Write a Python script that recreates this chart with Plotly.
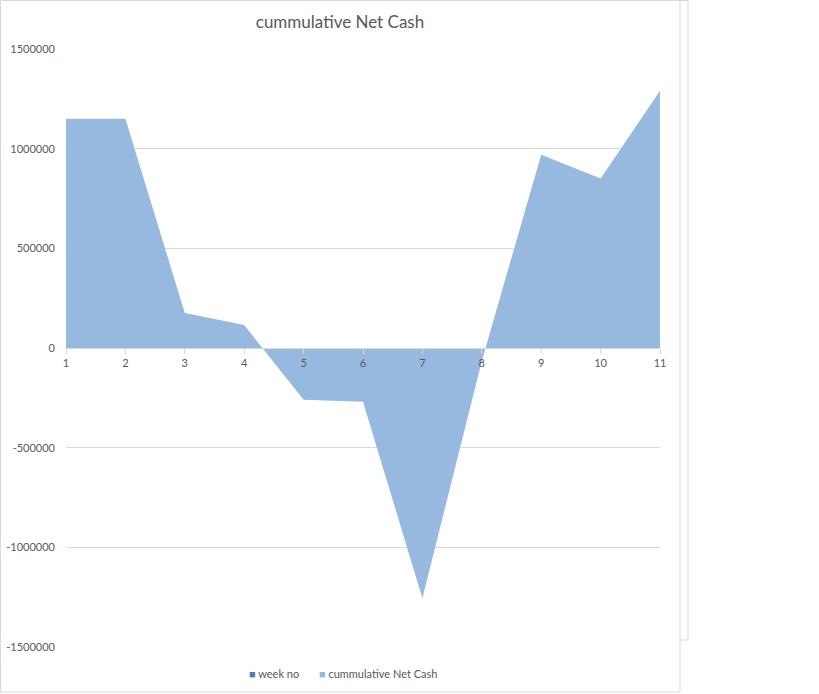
import plotly.graph_objects as go

weeks = [1, 2, 3, 4, 5, 6, 7, 8, 9, 10, 11]
week_no = [1, 2, 3, 4, 5, 6, 7, 8, 9, 10, 11]
cum_net_cash = [1150000, 1150000, 175000, 115000, -260000, -270000, -1255000, -65000, 970000, 850000, 1290000]
y_ticks = [-1500000, -1000000, -500000, 0, 500000, 1000000, 1500000]
series_names = ["week no", "cummulative Net Cash"]
series_colors = ["#4a7ebb", "#97b8df"]

W, H = 819, 694
L, R, T, B = 66, 660, 49, 647

def px(x):
    return (x - L) / (R - L)

def py(y):
    return (B - y) / (B - T)

fig = go.Figure()
fig.add_trace(go.Scatter(x=weeks, y=week_no, name=series_names[0], mode="lines",
                         fill="tozeroy", line=dict(width=0, color=series_colors[0]),
                         fillcolor=series_colors[0], hoverinfo="skip", showlegend=False))
fig.add_trace(go.Scatter(x=weeks, y=cum_net_cash, name=series_names[1], mode="lines",
                         fill="tozeroy", line=dict(width=0, color=series_colors[1]),
                         fillcolor=series_colors[1], showlegend=False))

legend_text = "&nbsp;&nbsp;&nbsp;&nbsp;&nbsp;&nbsp;&nbsp;".join(
    f'<span style="color:{c}; font-size:11px">■</span>&nbsp;{n}' for n, c in zip(series_names, series_colors)
)

font = "Lato, Open Sans, sans-serif"
fig.update_layout(
    width=W, height=H,
    margin=dict(l=L, r=W - R, t=T, b=H - B, pad=0, autoexpand=False),
    paper_bgcolor="white", plot_bgcolor="white",
    font=dict(family=font, size=11, color="#595959"),
    title=dict(text="cummulative Net Cash", x=340 / W, xanchor="center",
               y=1 - 22 / H, yanchor="middle",
               font=dict(size=17, color="#595959", family=font)),
    showlegend=False,
    annotations=[dict(text=legend_text, xref="paper", yref="paper", x=px(343), y=py(673),
                      xanchor="center", yanchor="middle", showarrow=False,
                      font=dict(size=11, color="#595959", family=font))],
    xaxis=dict(range=[1, 11], tickmode="array", tickvals=weeks, ticktext=[str(w) for w in weeks],
               showgrid=False, zeroline=False, showline=True, linecolor="#d9d9d9", linewidth=1,
               ticks="outside", ticklen=5, tickcolor="#d9d9d9", automargin=False,
               anchor="free", position=0.5, tickfont=dict(size=11, color="#595959")),
    yaxis=dict(range=[-1500000, 1500000], tickmode="array", tickvals=y_ticks,
               ticktext=[str(v) for v in y_ticks], automargin=False,
               showgrid=True, gridcolor="#d9d9d9", gridwidth=1, zeroline=False,
               showline=False, ticks="", ticklabelstandoff=10,
               tickfont=dict(size=11, color="#595959")),
    shapes=[
        dict(type="path", xref="paper", yref="paper",
             path=f"M {px(680)} {py(0.5)} L {px(688)} {py(0.5)} L {px(688)} {py(640)} L {px(680)} {py(640)}",
             line=dict(color="#d9d9d9", width=1)),
        dict(type="rect", xref="paper", yref="paper",
             x0=px(0.5), y0=py(692), x1=px(680), y1=py(0.5),
             line=dict(color="#d9d9d9", width=1)),
    ],
)

fig.write_html("out.html", config={"displayModeBar": False},
               post_script="document.body.style.margin='0';")
